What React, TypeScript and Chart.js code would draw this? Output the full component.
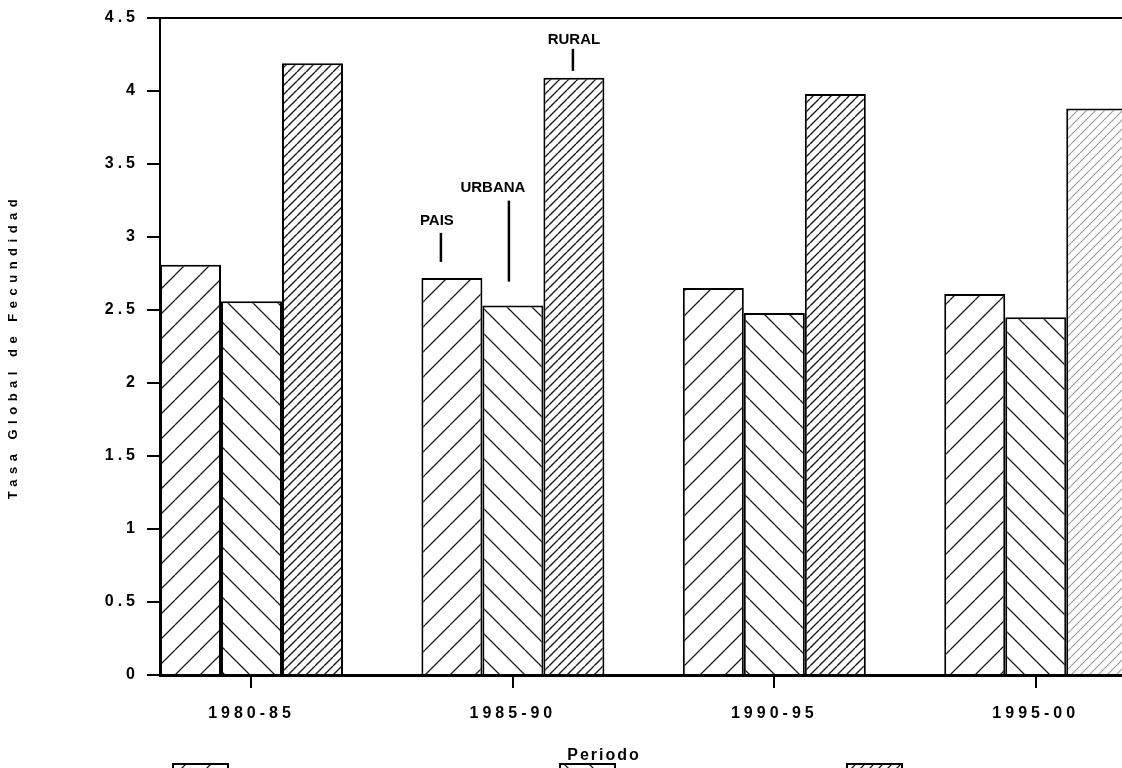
import React, { useEffect, useRef } from 'react';
import { Chart, registerables } from 'chart.js';

Chart.register(...registerables);

// ---------- data ----------
const categories = ['1980-85', '1985-90', '1990-95', '1995-00'];
const seriesNames = ['PAIS', 'URBANA', 'RURAL'];
const pais = [2.81, 2.72, 2.65, 2.61];
const urbana = [2.56, 2.53, 2.48, 2.45];
const rural = [4.19, 4.09, 3.98, 3.88];
const yMin = 0;
const yMax = 4.5;
const yStep = 0.5;
const xTitle = 'Periodo';
const yTitle = 'Tasa Global de Fecundidad';

// annotations placed above the bars of one category
const annotatedCategory = 1;
const annotations = [
  { dataset: 0, text: 'PAIS', lineDx: -11, gap: 16, len: 29, textDx: -15, textGap: 8 },
  { dataset: 1, text: 'URBANA', lineDx: -4, gap: 24, len: 81, textDx: -20, textGap: 9 },
  { dataset: 2, text: 'RURAL', lineDx: -1, gap: 7, len: 22, textDx: 0, textGap: 5 },
];

// layout of decorations
const FONT = '"Liberation Sans", Arial, sans-serif';
const legendX = [173, 560, 847];

function hatchPattern(
  ctx: CanvasRenderingContext2D,
  dir: number,
  spacing: number,
  color: string,
  lw: number
) {
  const s = spacing;
  const c = document.createElement('canvas');
  c.width = s;
  c.height = s;
  const g = c.getContext('2d') as CanvasRenderingContext2D;
  g.fillStyle = '#fff';
  g.fillRect(0, 0, s, s);
  g.strokeStyle = color;
  g.lineWidth = lw;
  g.beginPath();
  for (const o of [-s, 0, s]) {
    if (dir > 0) {
      g.moveTo(o, s);
      g.lineTo(o + s, 0);
    } else {
      g.moveTo(o, 0);
      g.lineTo(o + s, s);
    }
  }
  g.stroke();
  return ctx.createPattern(c, 'repeat') as CanvasPattern;
}

export default function App() {
  const canvasRef = useRef<HTMLCanvasElement | null>(null);

  useEffect(() => {
    const canvas = canvasRef.current;
    if (!canvas) return;
    const ctx0 = canvas.getContext('2d') as CanvasRenderingContext2D;

    const pPais = hatchPattern(ctx0, 1, 25, '#1a1a1a', 1.3);
    const pUrb = hatchPattern(ctx0, -1, 25, '#1a1a1a', 1.3);
    const pRur = hatchPattern(ctx0, 1, 9, '#1a1a1a', 1.4);
    const pRurLight = hatchPattern(ctx0, 1, 9, '#9a9a9a', 1.1);

    const fills = [pPais, pUrb, pRur];

    const decor = {
      id: 'decor',
      beforeUpdate(chart: any) {
        chart.ctx.letterSpacing = '4px';
      },
      beforeDraw(chart: any) {
        chart.ctx.letterSpacing = '4px';
      },
      afterDraw(chart: any) {
        const { ctx, chartArea } = chart;
        // y-axis title
        ctx.save();
        ctx.letterSpacing = '5.5px';
        ctx.font = `bold 13px ${FONT}`;
        ctx.fillStyle = '#000';
        ctx.translate(13, (chartArea.top + chartArea.bottom) / 2);
        ctx.rotate(-Math.PI / 2);
        ctx.textAlign = 'center';
        ctx.textBaseline = 'middle';
        ctx.fillText(yTitle, 0, 0);
        ctx.restore();

        // x-axis title
        ctx.save();
        ctx.letterSpacing = '2px';
        ctx.font = `bold 16px ${FONT}`;
        ctx.fillStyle = '#000';
        ctx.textAlign = 'center';
        ctx.textBaseline = 'alphabetic';
        ctx.fillText(xTitle, 604, 760);
        ctx.restore();

        // annotations
        ctx.save();
        ctx.letterSpacing = '0px';
        ctx.font = `bold 15px ${FONT}`;
        ctx.fillStyle = '#000';
        ctx.strokeStyle = '#000';
        ctx.lineWidth = 2.5;
        ctx.textAlign = 'center';
        ctx.textBaseline = 'alphabetic';
        for (const a of annotations) {
          const el = chart.getDatasetMeta(a.dataset).data[annotatedCategory];
          if (!el) continue;
          const x = el.x + a.lineDx;
          const yb = el.y - a.gap;
          const yt = yb - a.len;
          ctx.beginPath();
          ctx.moveTo(x, yb);
          ctx.lineTo(x, yt);
          ctx.stroke();
          ctx.fillText(a.text, el.x + a.textDx, yt - a.textGap);
        }
        ctx.restore();

        // legend swatches (cut by the page edge)
        ctx.save();
        for (let i = 0; i < seriesNames.length; i++) {
          ctx.fillStyle = fills[i];
          ctx.fillRect(legendX[i], 764, 55, 20);
          ctx.strokeStyle = '#000';
          ctx.lineWidth = 2;
          ctx.strokeRect(legendX[i], 764, 55, 20);
        }
        ctx.restore();
      },
    };

    const mk = (vals: number[]) => vals.map((v, i) => ({ x: i, y: v }));

    const chart = new Chart(canvas, {
      type: 'bar',
      data: {
        datasets: [
          {
            label: seriesNames[0],
            data: mk(pais),
            backgroundColor: pPais,
            borderColor: '#000',
            borderWidth: 2,
          },
          {
            label: seriesNames[1],
            data: mk(urbana),
            backgroundColor: pUrb,
            borderColor: '#000',
            borderWidth: 2,
          },
          {
            label: seriesNames[2],
            data: mk(rural),
            backgroundColor: rural.map((_, i) => (i === rural.length - 1 ? pRurLight : pRur)),
            borderColor: '#000',
            borderWidth: 2,
          },
        ],
      } as any,
      options: {
        animation: false,
        responsive: true,
        maintainAspectRatio: false,
        datasets: { bar: { barPercentage: 1, categoryPercentage: 0.7 } },
        layout: { padding: { top: 18, right: 0, left: 0, bottom: 0 } },
        plugins: {
          legend: { display: false },
          tooltip: { enabled: false },
        },
        scales: {
          x: {
            type: 'linear',
            min: -0.35,
            max: 3.33,
            offset: false,
            afterFit: (s: any) => {
              s.height = 93;
            },
            afterBuildTicks: (axis: any) => {
              axis.ticks = categories.map((_, i) => ({ value: i }));
            },
            ticks: {
              autoSkip: false,
              maxRotation: 0,
              padding: 16,
              color: '#000',
              font: { family: FONT, size: 16, weight: 'bold' },
              callback: (v: any) => categories[Math.round(Number(v))] ?? '',
            },
            grid: {
              offset: false,
              drawOnChartArea: false,
              drawTicks: true,
              tickLength: 13,
              color: '#000',
              lineWidth: 2,
            },
            border: { display: true, color: '#000', width: 3 },
          },
          y: {
            min: yMin,
            max: yMax,
            afterFit: (s: any) => {
              s.width = 160;
            },
            ticks: {
              stepSize: yStep,
              padding: 8,
              color: '#000',
              font: { family: FONT, size: 16, weight: 'bold' },
              callback: (v: any) => String(Number(v)),
            },
            grid: {
              drawOnChartArea: true,
              drawTicks: true,
              tickLength: 13,
              color: (c: any) => (c.tick && c.tick.value === yMax ? '#000' : 'rgba(0,0,0,0)'),
              tickColor: '#000',
              lineWidth: 2,
            },
            border: { display: true, color: '#000', width: 2 },
          },
        },
      } as any,
      plugins: [decor],
    });

    return () => chart.destroy();
  }, []);

  return (
    <div style={{ position: 'fixed', left: 0, top: 0, width: 1122, height: 768, background: '#fff' }}>
      <canvas ref={canvasRef} />
    </div>
  );
}
